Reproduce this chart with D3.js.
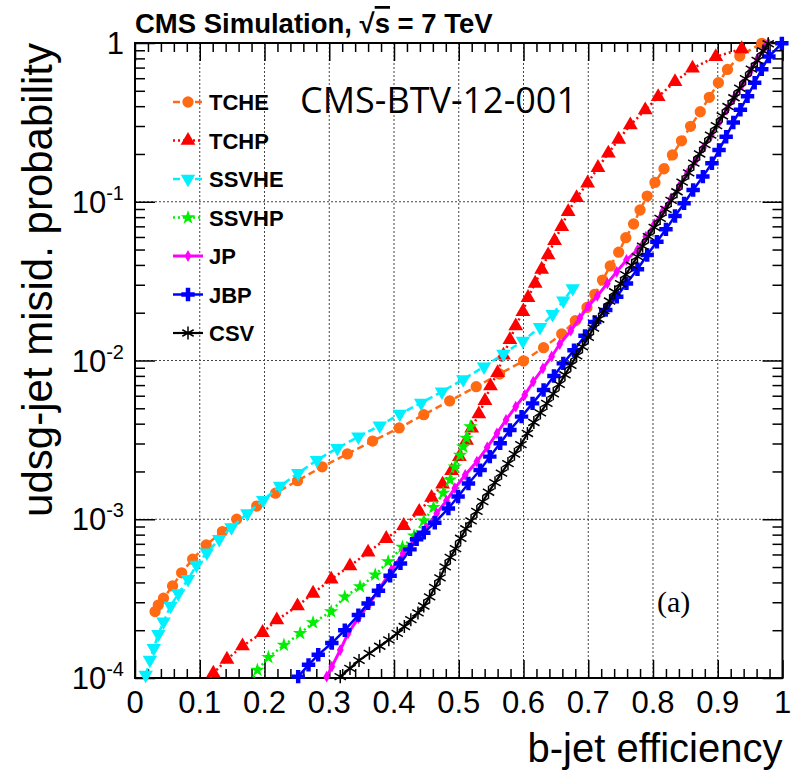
<!DOCTYPE html>
<html>
<head>
<meta charset="utf-8">
<script src="https://cdn.jsdelivr.net/npm/d3@7"></script>
<style>
body { margin: 0; background: #fff; }
svg text { font-family: "Liberation Sans", Arial, Helvetica, sans-serif; }
</style>
</head>
<body>
<svg width="796" height="771"></svg>
<script>
// values: b-jet efficiency vs udsg misid probability
var tcheEff = [0.031, 0.036, 0.044, 0.058, 0.072, 0.089, 0.110, 0.135, 0.157, 0.188, 0.217, 0.251, 0.289, 0.328, 0.367, 0.408, 0.446, 0.486, 0.527, 0.563, 0.600, 0.631, 0.659, 0.680, 0.698, 0.710, 0.722, 0.734, 0.747, 0.758, 0.770, 0.780, 0.791, 0.803, 0.817, 0.830, 0.844, 0.858, 0.873, 0.887, 0.901, 0.915, 0.934, 0.968];
var tcheMisid = [2.62e-4, 2.88e-4, 3.18e-4, 3.80e-4, 4.60e-4, 5.60e-4, 6.89e-4, 8.36e-4, 1.00e-3, 1.21e-3, 1.46e-3, 1.75e-3, 2.14e-3, 2.58e-3, 3.11e-3, 3.76e-3, 4.56e-3, 5.56e-3, 6.84e-3, 8.22e-3, 9.93e-3, 1.205e-2, 1.47e-2, 1.78e-2, 2.16e-2, 2.61e-2, 3.21e-2, 3.94e-2, 4.81e-2, 5.94e-2, 7.24e-2, 8.87e-2, 0.1086, 0.1324, 0.1614, 0.1972, 0.2421, 0.2985, 0.369, 0.455, 0.562, 0.682, 0.828, 0.995];

var tchpEff = [0.107, 0.121, 0.142, 0.166, 0.197, 0.219, 0.251, 0.275, 0.303, 0.332, 0.360, 0.388, 0.415, 0.439, 0.458, 0.475, 0.489, 0.501, 0.512, 0.520, 0.531, 0.5405, 0.549, 0.560, 0.569, 0.579, 0.588, 0.599, 0.607, 0.618, 0.628, 0.638, 0.648, 0.659, 0.669, 0.682, 0.699, 0.715, 0.731, 0.747, 0.765, 0.788, 0.808, 0.834, 0.861, 0.897, 0.937];
var tchpMisid = [8.91e-5, 1.07e-4, 1.31e-4, 1.59e-4, 1.93e-4, 2.32e-4, 2.84e-4, 3.41e-4, 4.19e-4, 5.08e-4, 6.19e-4, 7.55e-4, 9.12e-4, 1.12e-3, 1.37e-3, 1.66e-3, 2.02e-3, 2.48e-3, 3.13e-3, 3.74e-3, 4.60e-3, 5.58e-3, 6.90e-3, 8.38e-3, 1.08e-2, 1.35e-2, 1.65e-2, 2.03e-2, 2.49e-2, 3.06e-2, 3.75e-2, 4.62e-2, 5.68e-2, 6.97e-2, 8.65e-2, 0.106, 0.131, 0.164, 0.202, 0.247, 0.304, 0.378, 0.459, 0.570, 0.693, 0.820, 0.918];

var ssvheEff = [0.0165, 0.023, 0.029, 0.036, 0.044, 0.055, 0.067, 0.082, 0.095, 0.111, 0.130, 0.149, 0.1735, 0.198, 0.224, 0.252, 0.281, 0.3125, 0.345, 0.378, 0.409, 0.442, 0.474, 0.507, 0.539, 0.569, 0.599, 0.6255, 0.645, 0.6615, 0.676];
var ssvheMisid = [1.045e-4, 1.30e-4, 1.54e-4, 1.89e-4, 2.26e-4, 2.84e-4, 3.41e-4, 4.19e-4, 5.15e-4, 6.15e-4, 7.48e-4, 8.89e-4, 1.09e-3, 1.32e-3, 1.62e-3, 1.95e-3, 2.36e-3, 2.80e-3, 3.31e-3, 3.88e-3, 4.61e-3, 5.40e-3, 6.37e-3, 7.60e-3, 9.14e-3, 1.10e-2, 1.33e-2, 1.62e-2, 1.96e-2, 2.38e-2, 2.85e-2];

var ssvhpEff = [0.175, 0.189, 0.206, 0.230, 0.255, 0.275, 0.303, 0.324, 0.3475, 0.371, 0.391, 0.413, 0.431, 0.446, 0.461, 0.476, 0.4865, 0.494, 0.502, 0.507, 0.512, 0.518];
var ssvhpMisid = [8.91e-5, 1.12e-4, 1.35e-4, 1.61e-4, 1.91e-4, 2.23e-4, 2.62e-4, 3.25e-4, 3.76e-4, 4.46e-4, 5.41e-4, 6.68e-4, 7.87e-4, 9.77e-4, 1.19e-3, 1.46e-3, 1.77e-3, 2.14e-3, 2.54e-3, 2.86e-3, 3.24e-3, 3.83e-3];

var jpEff = [0.296, 0.304, 0.317, 0.329, 0.345, 0.363, 0.378, 0.396, 0.414, 0.431, 0.449, 0.466, 0.481, 0.494, 0.510, 0.528, 0.544, 0.559, 0.573, 0.588, 0.602, 0.615, 0.630, 0.6435, 0.656, 0.673, 0.687, 0.700, 0.714, 0.7295, 0.744, 0.759, 0.776, 0.789, 0.802, 0.815, 0.828, 0.841, 0.853, 0.866, 0.878, 0.890, 0.902, 0.914, 0.926, 0.938, 0.950, 0.961, 0.972, 0.978];
var jpMisid = [1.02e-4, 1.18e-4, 1.50e-4, 1.91e-4, 2.38e-4, 2.98e-4, 3.67e-4, 4.79e-4, 6.10e-4, 7.31e-4, 8.81e-4, 1.09e-3, 1.31e-3, 1.57e-3, 1.90e-3, 2.31e-3, 2.84e-3, 3.48e-3, 4.22e-3, 5.12e-3, 6.07e-3, 7.35e-3, 8.93e-3, 1.06e-2, 1.27e-2, 1.54e-2, 1.85e-2, 2.20e-2, 2.55e-2, 3.06e-2, 3.62e-2, 4.30e-2, 4.97e-2, 6.03e-2, 7.24e-2, 8.71e-2, 0.105, 0.126, 0.151, 0.182, 0.219, 0.263, 0.316, 0.380, 0.457, 0.550, 0.661, 0.794, 0.933, 1.0];

var jbpEff = [0.252, 0.268, 0.283, 0.304, 0.324, 0.345, 0.360, 0.376, 0.394, 0.410, 0.4247, 0.435, 0.446, 0.463, 0.484, 0.499, 0.515, 0.533, 0.548, 0.564, 0.579, 0.597, 0.614, 0.631, 0.647, 0.6615, 0.678, 0.695, 0.710, 0.727, 0.744, 0.759, 0.776, 0.791, 0.806, 0.820, 0.834, 0.848, 0.862, 0.877, 0.891, 0.902, 0.913, 0.924, 0.935, 0.946, 0.957, 0.968, 0.979, 0.999];
var jbpMisid = [1.02e-4, 1.21e-4, 1.40e-4, 1.66e-4, 2.00e-4, 2.49e-4, 2.95e-4, 3.55e-4, 4.40e-4, 5.27e-4, 6.46e-4, 7.48e-4, 8.22e-4, 9.51e-4, 1.17e-3, 1.39e-3, 1.68e-3, 2.04e-3, 2.48e-3, 3.01e-3, 3.65e-3, 4.43e-3, 5.37e-3, 6.52e-3, 7.98e-3, 9.59e-3, 1.16e-2, 1.43e-2, 1.75e-2, 2.08e-2, 2.52e-2, 3.06e-2, 3.76e-2, 4.62e-2, 5.60e-2, 6.70e-2, 8.13e-2, 9.77e-2, 0.1186, 0.144, 0.175, 0.212, 0.257, 0.316, 0.380, 0.462, 0.562, 0.684, 0.822, 0.995];

var csvEff = [0.317, 0.332, 0.346, 0.362, 0.378, 0.392, 0.405, 0.416, 0.426, 0.437, 0.446, 0.455, 0.463, 0.471, 0.479, 0.487, 0.495, 0.503, 0.511, 0.519, 0.528, 0.537, 0.546, 0.556, 0.566, 0.576, 0.586, 0.596, 0.606, 0.616, 0.626, 0.636, 0.646, 0.655, 0.664, 0.673, 0.682, 0.691, 0.700, 0.708, 0.716, 0.724, 0.733, 0.741, 0.750, 0.758, 0.767, 0.776, 0.784, 0.793, 0.802, 0.811, 0.820, 0.828, 0.837, 0.845, 0.855, 0.863, 0.872, 0.880, 0.889, 0.898, 0.907, 0.916, 0.925, 0.934, 0.943, 0.952, 0.961, 0.970, 0.978];
var csvMisid = [1.02e-4, 1.15e-4, 1.29e-4, 1.43e-4, 1.585e-4, 1.74e-4, 1.91e-4, 2.11e-4, 2.33e-4, 2.57e-4, 2.84e-4, 3.24e-4, 3.72e-4, 4.27e-4, 5.01e-4, 5.75e-4, 6.53e-4, 7.59e-4, 8.71e-4, 9.77e-4, 1.12e-3, 1.29e-3, 1.48e-3, 1.70e-3, 1.95e-3, 2.24e-3, 2.57e-3, 2.95e-3, 3.47e-3, 4.07e-3, 4.68e-3, 5.37e-3, 6.17e-3, 7.08e-3, 8.13e-3, 9.33e-3, 1.07e-2, 1.22e-2, 1.40e-2, 1.60e-2, 1.82e-2, 2.06e-2, 2.37e-2, 2.71e-2, 3.05e-2, 3.47e-2, 3.98e-2, 4.51e-2, 5.26e-2, 6.03e-2, 6.90e-2, 7.85e-2, 8.95e-2, 0.102, 0.1156, 0.133, 0.152, 0.175, 0.200, 0.229, 0.263, 0.302, 0.347, 0.398, 0.452, 0.519, 0.596, 0.684, 0.776, 0.891, 0.989];

var xTickValues = [0, 0.1, 0.2, 0.3, 0.4, 0.5, 0.6, 0.7, 0.8, 0.9, 1];
var xTickLabels = ["0", "0.1", "0.2", "0.3", "0.4", "0.5", "0.6", "0.7", "0.8", "0.9", "1"];
var yTickValues = [1, 1e-1, 1e-2, 1e-3, 1e-4];
var yTickExponents = ["", "-1", "-2", "-3", "-4"];

var svg = d3.select("svg"),
    frameLeft = 135, frameRight = 782.5, frameTop = 43, frameBottom = 678;

var x = d3.scaleLinear().domain([0, 1]).range([frameLeft, frameRight]);
var y = d3.scaleLog().domain([1e-4, 1]).range([frameBottom, frameTop]);

var asterisk = d3.symbolAsterisk || {
    draw: function(context, size) {
        var r = Math.sqrt(size) / 2, d = r * 0.7071;
        context.moveTo(0, -r); context.lineTo(0, r);
        context.moveTo(-d, -d); context.lineTo(d, d);
        context.moveTo(d, -d); context.lineTo(-d, d);
    }
};

var series = [
    {name: "TCHE", eff: tcheEff, misid: tcheMisid, color: "#ff6a13", dash: "7,4", width: 2.5, symbol: d3.symbolCircle, size: 100, rot: 0},
    {name: "TCHP", eff: tchpEff, misid: tchpMisid, color: "#ff0000", dash: "2,3", width: 2.5, symbol: d3.symbolTriangle, size: 95, rot: 0},
    {name: "SSVHE", eff: ssvheEff, misid: ssvheMisid, color: "#00f0ff", dash: "7,4", width: 2.5, symbol: d3.symbolTriangle, size: 90, rot: 180},
    {name: "SSVHP", eff: ssvhpEff, misid: ssvhpMisid, color: "#00ee00", dash: "2,3", width: 2.5, symbol: d3.symbolStar, size: 65, rot: 0},
    {name: "JP", eff: jpEff, misid: jpMisid, color: "#ff00ff", dash: null, width: 3, symbol: d3.symbolDiamond, size: 40, rot: 0},
    {name: "JBP", eff: jbpEff, misid: jbpMisid, color: "#0000ff", dash: null, width: 2.5, symbol: d3.symbolCross, size: 100, rot: 0},
    {name: "CSV", eff: csvEff, misid: csvMisid, color: "#000000", dash: null, width: 2.2, symbol: asterisk, size: 120, rot: 0, stroke: true}
];

svg.append("rect").attr("width", 796).attr("height", 771).attr("fill", "#fff");

svg.append("clipPath").attr("id", "frame")
    .append("rect")
    .attr("x", frameLeft).attr("y", frameTop)
    .attr("width", frameRight - frameLeft).attr("height", frameBottom - frameTop);

// dotted grid
var grid = svg.append("g").attr("stroke", "#444").attr("stroke-width", 1).attr("stroke-dasharray", "2,2");
grid.selectAll(".gx")
    .data(xTickValues.slice(1, -1))
    .enter().append("line")
    .attr("x1", function(d) { return x(d); })
    .attr("x2", function(d) { return x(d); })
    .attr("y1", frameTop).attr("y2", frameBottom);
grid.selectAll(".gy")
    .data(yTickValues.slice(1, -1))
    .enter().append("line")
    .attr("y1", function(d) { return y(d); })
    .attr("y2", function(d) { return y(d); })
    .attr("x1", frameLeft).attr("x2", frameRight);

// ticks on all four sides, pointing inward
var minorX = d3.range(0, 1.0001, 0.02).filter(function(d) { return Math.round(d * 50) % 5 !== 0; });
var minorY = [];
yTickValues.slice(1).forEach(function(v) {
    for (var k = 2; k <= 9; k++) minorY.push(v * k);
});

svg.append("g")
    .attr("transform", "translate(0," + frameBottom + ")")
    .call(d3.axisBottom(x).tickValues(xTickValues).tickSize(-18).tickFormat(""));
svg.append("g")
    .attr("transform", "translate(0," + frameBottom + ")")
    .call(d3.axisBottom(x).tickValues(minorX).tickSize(-9).tickFormat(""));
svg.append("g")
    .attr("transform", "translate(0," + frameTop + ")")
    .call(d3.axisTop(x).tickValues(xTickValues).tickSize(-18).tickFormat(""));
svg.append("g")
    .attr("transform", "translate(0," + frameTop + ")")
    .call(d3.axisTop(x).tickValues(minorX).tickSize(-9).tickFormat(""));
svg.append("g")
    .attr("transform", "translate(" + frameLeft + ",0)")
    .call(d3.axisLeft(y).tickValues(yTickValues).tickSize(-20).tickFormat(""));
svg.append("g")
    .attr("transform", "translate(" + frameLeft + ",0)")
    .call(d3.axisLeft(y).tickValues(minorY).tickSize(-10).tickFormat(""));
svg.append("g")
    .attr("transform", "translate(" + frameRight + ",0)")
    .call(d3.axisRight(y).tickValues(yTickValues).tickSize(-20).tickFormat(""));
svg.append("g")
    .attr("transform", "translate(" + frameRight + ",0)")
    .call(d3.axisRight(y).tickValues(minorY).tickSize(-10).tickFormat(""));
svg.selectAll(".domain").remove();
svg.selectAll(".tick line").attr("stroke", "#000").attr("stroke-width", 1.5);

svg.append("rect")
    .attr("x", frameLeft).attr("y", frameTop)
    .attr("width", frameRight - frameLeft).attr("height", frameBottom - frameTop)
    .attr("fill", "none").attr("stroke", "#000").attr("stroke-width", 2);

// tick labels
svg.selectAll(".xlab")
    .data(xTickValues)
    .enter().append("text")
    .attr("x", function(d) { return x(d); })
    .attr("y", frameBottom + 35)
    .attr("text-anchor", "middle")
    .attr("font-size", "31px")
    .text(function(d, i) { return xTickLabels[i]; });

var ylab = svg.selectAll(".ylab")
    .data(yTickValues)
    .enter().append("text")
    .attr("x", 124)
    .attr("y", function(d) { return y(d) + 11; })
    .attr("text-anchor", "end")
    .attr("font-size", "31px");
ylab.append("tspan")
    .text(function(d, i) { return i === 0 ? "1" : "10"; });
ylab.append("tspan")
    .attr("dy", -13)
    .attr("font-size", "20px")
    .text(function(d, i) { return yTickExponents[i]; });

// curves
var line = d3.line()
    .x(function(d) { return x(d[0]); })
    .y(function(d) { return y(d[1]); });

var plot = svg.append("g");
series.forEach(function(s) {
    var pts = d3.zip(s.eff, s.misid);
    plot.append("path")
        .datum(pts)
        .attr("clip-path", "url(#frame)")
        .attr("fill", "none")
        .attr("stroke", s.color)
        .attr("stroke-width", s.width)
        .attr("stroke-dasharray", s.dash)
        .attr("d", line);
    plot.selectAll(".m-" + s.name)
        .data(pts.filter(function(d) { return d[1] >= 1e-4; }))
        .enter().append("path")
        .attr("transform", function(d) { return "translate(" + x(d[0]) + "," + y(d[1]) + ") rotate(" + s.rot + ")"; })
        .attr("d", d3.symbol().type(s.symbol).size(s.size))
        .attr("fill", s.stroke ? "none" : s.color)
        .attr("stroke", s.stroke ? s.color : "none")
        .attr("stroke-width", 1.5);
});

// legend
var legend = svg.append("g");
series.forEach(function(s, i) {
    var ly = 102 + i * 38.5;
    legend.append("line")
        .attr("x1", 173).attr("x2", 203)
        .attr("y1", ly).attr("y2", ly)
        .attr("stroke", s.color)
        .attr("stroke-width", s.width)
        .attr("stroke-dasharray", s.dash);
    legend.append("path")
        .attr("transform", "translate(188," + ly + ") rotate(" + s.rot + ")")
        .attr("d", d3.symbol().type(s.symbol).size(s.size))
        .attr("fill", s.stroke ? "none" : s.color)
        .attr("stroke", s.stroke ? s.color : "none")
        .attr("stroke-width", 1.5);
    legend.append("text")
        .attr("x", 209).attr("y", ly + 8)
        .attr("font-size", "22px")
        .attr("font-weight", "bold")
        .text(s.name);
});

// titles
var title = svg.append("text")
    .attr("x", 135).attr("y", 33)
    .attr("font-size", "27.5px")
    .attr("font-weight", "bold");
title.append("tspan").text("CMS Simulation, \u221a");
title.append("tspan").attr("text-decoration", "overline").text("s");
title.append("tspan").text(" = 7 TeV");

svg.append("text")
    .attr("x", 300).attr("y", 113)
    .attr("font-size", "36px")
    .style("font-family", "'Open Sans', sans-serif")
    .text("CMS-BTV-12-001");

svg.append("text")
    .attr("x", 657).attr("y", 612)
    .attr("font-size", "30px")
    .style("font-family", "'Liberation Serif', serif")
    .text("(a)");

svg.append("text")
    .attr("x", frameRight).attr("y", 762)
    .attr("text-anchor", "end")
    .attr("font-size", "40px")
    .text("b-jet efficiency");

svg.append("text")
    .attr("transform", "translate(52," + frameTop + ") rotate(-90)")
    .attr("text-anchor", "end")
    .attr("font-size", "42px")
    .text("udsg-jet misid. probability");
</script>
</body>
</html>
